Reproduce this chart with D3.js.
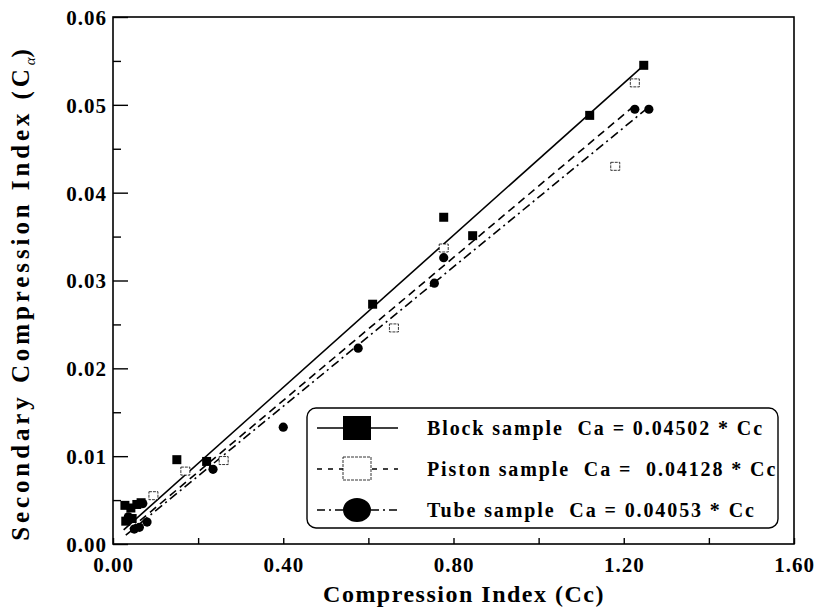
<!DOCTYPE html>
<html>
<head>
<meta charset="utf-8">
<script src="https://cdn.jsdelivr.net/npm/d3@7"></script>
<style>
  body { margin: 0; background: #fff; }
  text { font-family: "Liberation Serif", "Times New Roman", serif; font-weight: bold; }
</style>
</head>
<body>
<svg id="chart" width="820" height="609"></svg>
<script>
// data: [Cc, Ca]
const blockPts = [[0.028, 0.0044], [0.042, 0.0041], [0.056, 0.0045], [0.066, 0.0047],
  [0.03, 0.0026], [0.045, 0.0029], [0.15, 0.0096], [0.22, 0.0094], [0.61, 0.0273],
  [0.777, 0.0372], [0.845, 0.0351], [1.12, 0.0488], [1.247, 0.0545]];
const pistonPts = [[0.095, 0.0055], [0.17, 0.0083], [0.26, 0.0095], [0.66, 0.0246],
  [0.777, 0.0337], [1.18, 0.0430], [1.226, 0.0525]];
const tubePts = [[0.036, 0.0031], [0.05, 0.0017], [0.062, 0.0019], [0.08, 0.0025],
  [0.07, 0.0046], [0.235, 0.0085], [0.40, 0.0133], [0.576, 0.0223], [0.755, 0.0297],
  [0.777, 0.0326], [1.226, 0.0495], [1.259, 0.0495]];

// fitted lines as drawn (end points)
const blockFit = [[0.025, 0.0016], [1.247, 0.0545]];
const pistonFit = [[0.04, 0.0017], [1.22, 0.0497]];
const tubeFit = [[0.03, 0.0010], [1.25, 0.0494]];

const xTicks = [0, 0.4, 0.8, 1.2, 1.6];
const xMinor = [0.2, 0.6, 1.0, 1.4];
const yTicks = [0, 0.01, 0.02, 0.03, 0.04, 0.05, 0.06];
const yMinor = [0.005, 0.015, 0.025, 0.035, 0.045, 0.055];

const legendLabels = ["Block sample  Ca = 0.04502 * Cc",
  "Piston sample  Ca =  0.04128 * Cc",
  "Tube sample  Ca = 0.04053 * Cc"];

const svg = d3.select("#chart");
const x = d3.scaleLinear().domain([0, 1.6]).range([113, 794]);
const y = d3.scaleLinear().domain([0, 0.06]).range([544, 17]);

// frame
svg.append("rect")
  .attr("x", x(0)).attr("y", y(0.06))
  .attr("width", x(1.6) - x(0)).attr("height", y(0) - y(0.06))
  .attr("fill", "none").attr("stroke", "#000").attr("stroke-width", 1.6);

// x axis (ticks pointing inward)
const xAxis = svg.append("g").attr("transform", `translate(0,${y(0)})`)
  .call(d3.axisBottom(x).tickValues(xTicks).tickSize(-6).tickPadding(13)
    .tickFormat(d3.format(".2f")));
svg.append("g").attr("transform", `translate(0,${y(0)})`)
  .call(d3.axisBottom(x).tickValues(xMinor).tickSize(-6).tickFormat(""));

// y axis
const yAxis = svg.append("g").attr("transform", `translate(${x(0)},0)`)
  .call(d3.axisLeft(y).tickValues(yTicks).tickSize(-15).tickPadding(6)
    .tickFormat(d3.format(".2f")));
svg.append("g").attr("transform", `translate(${x(0)},0)`)
  .call(d3.axisLeft(y).tickValues(yMinor).tickSize(-8).tickFormat(""));

svg.selectAll(".domain").remove();
svg.selectAll(".tick line").attr("stroke", "#000").attr("stroke-width", 1.4);
svg.selectAll(".tick text")
  .attr("fill", "#000")
  .style("font-family", "'Liberation Serif', serif")
  .style("font-weight", "bold")
  .style("font-size", "21px")
  .style("letter-spacing", "1px");
yAxis.selectAll(".tick text").attr("dy", "0.35em");

// axis titles
svg.append("text")
  .attr("x", 464).attr("y", 602)
  .attr("text-anchor", "middle")
  .style("font-size", "24px")
  .style("letter-spacing", "1.5px")
  .text("Compression Index (Cc)");

const yt = svg.append("text")
  .attr("transform", "translate(29,293) rotate(-90)")
  .attr("text-anchor", "middle")
  .style("font-size", "25px")
  .style("letter-spacing", "3.9px");
yt.append("tspan").text("Secondary Compression Index (C");
yt.append("tspan").attr("dy", 6).style("font-size", "15px").style("font-style", "italic")
  .style("font-weight", "normal").style("letter-spacing", "0px").text("α");
yt.append("tspan").attr("dy", -6).text(")");

// fit lines
const line = d3.line().x(d => x(d[0])).y(d => y(d[1]));
svg.append("path").datum(blockFit).attr("d", line)
  .attr("fill", "none").attr("stroke", "#000").attr("stroke-width", 1.6);
svg.append("path").datum(pistonFit).attr("d", line)
  .attr("fill", "none").attr("stroke", "#000").attr("stroke-width", 1.6)
  .attr("stroke-dasharray", "8,5");
svg.append("path").datum(tubeFit).attr("d", line)
  .attr("fill", "none").attr("stroke", "#000").attr("stroke-width", 1.6)
  .attr("stroke-dasharray", "9,4,2,4");

// markers
svg.selectAll(".block").data(blockPts).enter().append("rect")
  .attr("class", "block")
  .attr("x", d => x(d[0]) - 4.5).attr("y", d => y(d[1]) - 4.5)
  .attr("width", 9).attr("height", 9).attr("fill", "#000");

svg.selectAll(".piston").data(pistonPts).enter().append("rect")
  .attr("class", "piston")
  .attr("x", d => x(d[0]) - 4.5).attr("y", d => y(d[1]) - 4)
  .attr("width", 9).attr("height", 8)
  .attr("fill", "#fff").attr("stroke", "#000").attr("stroke-width", 0.8)
  .attr("stroke-dasharray", "3,1");

svg.selectAll(".tube").data(tubePts).enter().append("circle")
  .attr("class", "tube")
  .attr("cx", d => x(d[0])).attr("cy", d => y(d[1]))
  .attr("r", 4.6).attr("fill", "#000");

// legend
const lg = svg.append("g");
lg.append("rect")
  .attr("x", 307).attr("y", 408).attr("width", 471).attr("height", 120)
  .attr("rx", 9).attr("fill", "#fff").attr("stroke", "#000").attr("stroke-width", 1.4);

const rowY = [428, 469, 510];
const dashes = [null, "5,6", "8,4,2,4"];
rowY.forEach((ry, i) => {
  lg.append("line")
    .attr("x1", 317).attr("x2", 398).attr("y1", ry).attr("y2", ry)
    .attr("stroke", "#000").attr("stroke-width", 1.4)
    .attr("stroke-dasharray", dashes[i]);
  if (i === 0) {
    lg.append("rect").attr("x", 343).attr("y", ry - 12).attr("width", 28).attr("height", 24)
      .attr("fill", "#000");
  } else if (i === 1) {
    lg.append("rect").attr("x", 343).attr("y", ry - 12).attr("width", 28).attr("height", 23)
      .attr("fill", "#fff").attr("stroke", "#000").attr("stroke-width", 0.8)
      .attr("stroke-dasharray", "3,1");
  } else {
    lg.append("ellipse").attr("cx", 357).attr("cy", ry).attr("rx", 14).attr("ry", 12)
      .attr("fill", "#000");
  }
  lg.append("text")
    .attr("x", 427).attr("y", ry).attr("dy", "0.35em")
    .style("font-size", "20px")
    .style("letter-spacing", "1.9px")
    .attr("xml:space", "preserve")
    .text(legendLabels[i]);
});
</script>
</body>
</html>
